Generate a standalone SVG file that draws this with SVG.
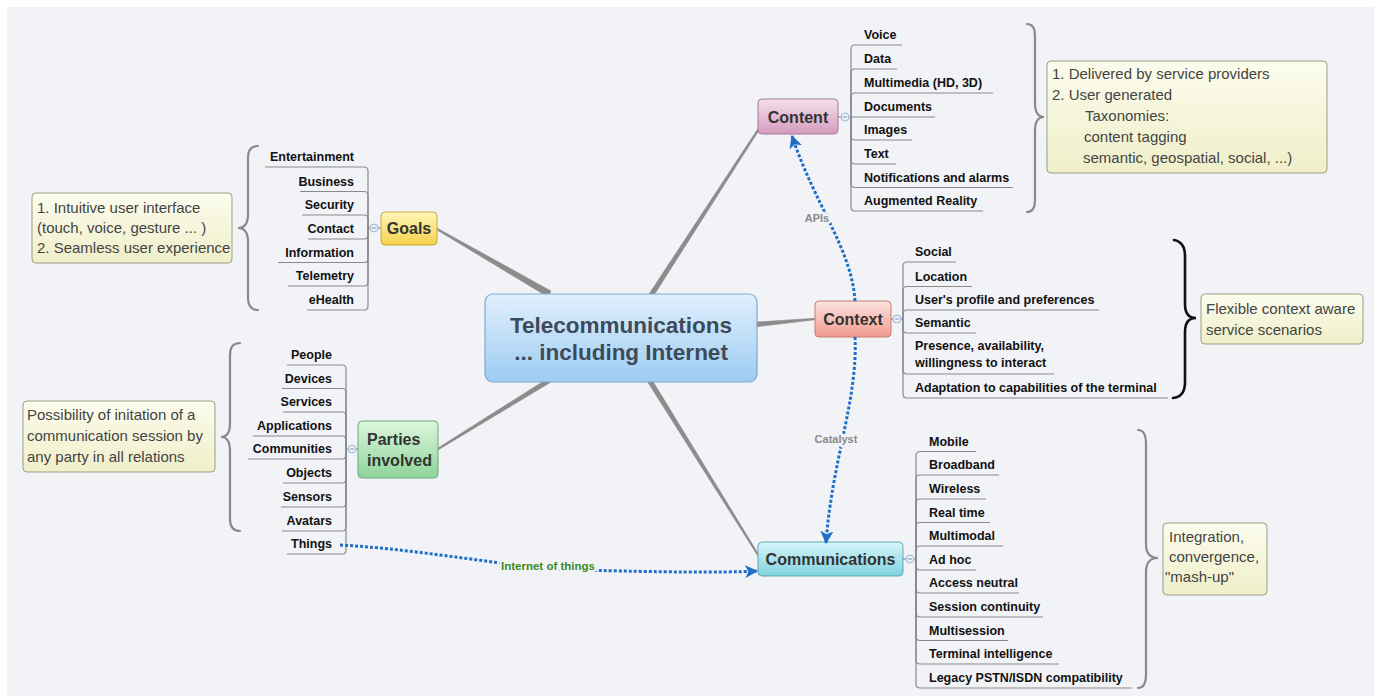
<svg xmlns="http://www.w3.org/2000/svg" width="1381" height="700" viewBox="0 0 1381 700">
<style>
  .item { font-family: "Liberation Sans", Arial, sans-serif; font-weight: bold; font-size: 12.5px; fill: #111; }
  .itemR { text-anchor: end; }
  .tree { fill: none; stroke: #8a8a8a; stroke-width: 1.2; }
  .topic { font-family: "Liberation Sans", Arial, sans-serif; font-weight: bold; font-size: 16px; fill: #333; text-anchor: middle; }
  .note { font-family: "Liberation Sans", Arial, sans-serif; font-size: 15px; fill: #444; }
  .noteBox { fill: url(#gNote); stroke: #9d9d82; stroke-width: 1; }
  .brace { fill: none; stroke: #8a8a8a; stroke-width: 2.2; stroke-linecap: round; }
  .branch { fill: #8c8c8c; stroke: #8c8c8c; stroke-width: 0.6; stroke-linejoin: round; }
  .dot { fill: none; stroke: #1f6fc6; stroke-width: 3; stroke-dasharray: 3 2; }
  .lbl { font-family: "Liberation Sans", Arial, sans-serif; font-weight: bold; font-size: 11px; text-anchor: middle; paint-order: stroke; stroke: #f2f3f7; stroke-width: 5px; stroke-linejoin: round; }
  .knob { fill: #e8eff8; stroke: #9fb6d3; stroke-width: 1; }
</style>
<defs>
  <linearGradient id="gCenter" x1="0" y1="0" x2="0" y2="1"><stop offset="0" stop-color="#e0effc"/><stop offset="1" stop-color="#9dccf3"/></linearGradient>
  <linearGradient id="gGoals" x1="0" y1="0" x2="0" y2="1"><stop offset="0" stop-color="#fff6b8"/><stop offset="1" stop-color="#f5d24a"/></linearGradient>
  <linearGradient id="gParties" x1="0" y1="0" x2="0" y2="1"><stop offset="0" stop-color="#ddf6dd"/><stop offset="1" stop-color="#8ed49a"/></linearGradient>
  <linearGradient id="gContent" x1="0" y1="0" x2="0" y2="1"><stop offset="0" stop-color="#f6dfec"/><stop offset="1" stop-color="#d49bbd"/></linearGradient>
  <linearGradient id="gContext" x1="0" y1="0" x2="0" y2="1"><stop offset="0" stop-color="#fde3df"/><stop offset="1" stop-color="#f29a8f"/></linearGradient>
  <linearGradient id="gComm" x1="0" y1="0" x2="0" y2="1"><stop offset="0" stop-color="#d8f6fa"/><stop offset="1" stop-color="#80d2df"/></linearGradient>
  <linearGradient id="gNote" x1="0" y1="0" x2="0" y2="1"><stop offset="0" stop-color="#fcfcee"/><stop offset="1" stop-color="#efefc9"/></linearGradient>
  <marker id="arr" viewBox="0 0 12 12" refX="11" refY="6" markerWidth="13" markerHeight="13" markerUnits="userSpaceOnUse" orient="auto">
    <path d="M0,0 L12,6 L0,12 L3,6 z" fill="#1f6fc6"/>
  </marker>
</defs>

<rect x="0" y="0" width="1381" height="700" fill="#ffffff"/>
<rect x="7" y="7" width="1367" height="689" fill="#f2f3f7"/>

<g id="branches">
  <polygon class="branch" points="437.4,228.3 551,291 548,297 436.6,229.7"/>
  <polygon class="branch" points="762.7,124.4 650.1,301.3 645.9,298.7 761.3,123.6"/>
  <polygon class="branch" points="815,318.2 815,319.8 750,327.5 750,322.5"/>
  <polygon class="branch" points="650.1,376.7 760.6,557.6 759.4,558.4 645.9,379.3"/>
  <polygon class="branch" points="437.6,448.3 551.7,375.9 554.3,380.1 438.4,449.7"/>
</g>

<g id="center">
  <rect x="485" y="294" width="272" height="88" rx="8" fill="url(#gCenter)" stroke="#7fa9d0" stroke-width="1.2"/>
  <text x="621" y="333" class="topic" style="font-size:22.5px;fill:#3c4a5a">Telecommunications</text>
  <text x="621" y="360" class="topic" style="font-size:22.5px;fill:#3c4a5a">... including Internet</text>
</g>

<g id="goals">
  <rect x="381" y="212" width="56" height="33" rx="4" fill="url(#gGoals)" stroke="#c9a83c" stroke-width="1"/>
  <text x="409" y="234" class="topic">Goals</text>
</g>
<g id="goals-items">
  <path class="tree" d="M368,228 H381"/>
  <path class="tree" d="M368,228 V171 Q368,167 364,167 H265"/>
  <path class="tree" d="M368,228 V195.5 Q368,191.5 364,191.5 H300"/>
  <path class="tree" d="M368,228 V219 Q368,215 364,215 H302"/>
  <path class="tree" d="M368,228 V235 Q368,239 364,239 H308"/>
  <path class="tree" d="M368,228 V258.5 Q368,262.5 364,262.5 H278"/>
  <path class="tree" d="M368,228 V282 Q368,286 364,286 H288"/>
  <path class="tree" d="M368,228 V306 Q368,310 364,310 H307"/>
  <circle class="knob" cx="374" cy="228" r="4"/><path d="M372,228 H376" stroke="#7d98bd" stroke-width="1"/>
  <text class="item itemR" x="354" y="161">Entertainment</text>
  <text class="item itemR" x="354" y="185.5">Business</text>
  <text class="item itemR" x="354" y="209">Security</text>
  <text class="item itemR" x="354" y="233">Contact</text>
  <text class="item itemR" x="354" y="256.5">Information</text>
  <text class="item itemR" x="354" y="280">Telemetry</text>
  <text class="item itemR" x="354" y="304">eHealth</text>
</g>
<g id="goals-note">
  <path class="brace" d="M258,146 Q248,146 248,158 V214 Q248,228 238,228 Q248,228 248,242 V298 Q248,310 258,310"/>
  <rect class="noteBox" x="32" y="193" width="200" height="70" rx="4"/>
  <text class="note" x="37" y="213">1. Intuitive user interface</text>
  <text class="note" x="37" y="233">(touch, voice, gesture ... )</text>
  <text class="note" x="37" y="253">2. Seamless user experience</text>
</g>

<g id="parties">
  <rect x="358" y="421" width="80" height="57" rx="4" fill="url(#gParties)" stroke="#6aa97a" stroke-width="1"/>
  <text x="367" y="445" class="topic" style="text-anchor:start">Parties</text>
  <text x="367" y="466" class="topic" style="text-anchor:start">involved</text>
</g>
<g id="parties-items">
  <path class="tree" d="M346,449 H358"/>
  <path class="tree" d="M346,449 V369 Q346,365 342,365 H287"/>
  <path class="tree" d="M346,449 V392.5 Q346,388.5 342,388.5 H282"/>
  <path class="tree" d="M346,449 V416 Q346,412 342,412 H283"/>
  <path class="tree" d="M346,449 V440 Q346,436 342,436 H253"/>
  <path class="tree" d="M346,449 V455 Q346,459 342,459 H248"/>
  <path class="tree" d="M346,449 V479 Q346,483 342,483 H283"/>
  <path class="tree" d="M346,449 V503 Q346,507 342,507 H281"/>
  <path class="tree" d="M346,449 V527 Q346,531 342,531 H282"/>
  <path class="tree" d="M346,449 V550 Q346,554 342,554 H287"/>
  <circle class="knob" cx="352" cy="449" r="4"/><path d="M350,449 H354" stroke="#7d98bd" stroke-width="1"/>
  <text class="item itemR" x="332" y="359">People</text>
  <text class="item itemR" x="332" y="382.5">Devices</text>
  <text class="item itemR" x="332" y="406">Services</text>
  <text class="item itemR" x="332" y="430">Applications</text>
  <text class="item itemR" x="332" y="453">Communities</text>
  <text class="item itemR" x="332" y="477">Objects</text>
  <text class="item itemR" x="332" y="501">Sensors</text>
  <text class="item itemR" x="332" y="525">Avatars</text>
  <text class="item itemR" x="332" y="548">Things</text>
</g>
<g id="parties-note">
  <path class="brace" d="M240,343 Q230,343 230,355 V423 Q230,437 221,437 Q230,437 230,451 V519 Q230,531 240,531"/>
  <rect class="noteBox" x="23" y="401" width="192" height="71" rx="4"/>
  <text class="note" x="27" y="420">Possibility of initation of a</text>
  <text class="note" x="27" y="441">communication session by</text>
  <text class="note" x="27" y="462">any party in all relations</text>
</g>

<g id="content">
  <rect x="758" y="99" width="80" height="35" rx="4" fill="url(#gContent)" stroke="#a87898" stroke-width="1"/>
  <text x="798" y="123" class="topic">Content</text>
</g>
<g id="content-items">
  <path class="tree" d="M838,117 H851"/>
  <path class="tree" d="M851,117 V49 Q851,45 855,45 H902"/>
  <path class="tree" d="M851,117 V73 Q851,69 855,69 H897"/>
  <path class="tree" d="M851,117 V97 Q851,93 855,93 H993"/>
  <path class="tree" d="M851,117 H935"/>
  <path class="tree" d="M851,117 V136 Q851,140 855,140 H912"/>
  <path class="tree" d="M851,117 V160 Q851,164 855,164 H896"/>
  <path class="tree" d="M851,117 V183.5 Q851,187.5 855,187.5 H1013"/>
  <path class="tree" d="M851,117 V207 Q851,211 855,211 H983"/>
  <circle class="knob" cx="845" cy="117" r="4"/><path d="M843,117 H847" stroke="#7d98bd" stroke-width="1"/>
  <text class="item" x="864" y="39">Voice</text>
  <text class="item" x="864" y="63">Data</text>
  <text class="item" x="864" y="87">Multimedia (HD, 3D)</text>
  <text class="item" x="864" y="110.5">Documents</text>
  <text class="item" x="864" y="134">Images</text>
  <text class="item" x="864" y="158">Text</text>
  <text class="item" x="864" y="181.5">Notifications and alarms</text>
  <text class="item" x="864" y="205">Augmented Reality</text>
</g>
<g id="content-note">
  <path class="brace" d="M1027,24 Q1035,24 1035,36 V103 Q1035,117 1044,117 Q1035,117 1035,131 V200 Q1035,212 1027,212"/>
  <rect class="noteBox" x="1047" y="61" width="280" height="112" rx="4"/>
  <text class="note" x="1052" y="79">1. Delivered by service providers</text>
  <text class="note" x="1052" y="100">2. User generated</text>
  <text class="note" x="1085" y="121">Taxonomies:</text>
  <text class="note" x="1084" y="142">content tagging</text>
  <text class="note" x="1083" y="163">semantic, geospatial, social, ...)</text>
</g>

<g id="context">
  <rect x="815" y="301" width="76" height="36" rx="4" fill="url(#gContext)" stroke="#c77a72" stroke-width="1"/>
  <text x="853" y="325" class="topic">Context</text>
</g>
<g id="context-items">
  <path class="tree" d="M891,319 H903"/>
  <path class="tree" d="M903,319 V266 Q903,262 907,262 H956"/>
  <path class="tree" d="M903,319 V290.5 Q903,286.5 907,286.5 H972"/>
  <path class="tree" d="M903,319 V314 Q903,310 907,310 H1099"/>
  <path class="tree" d="M903,319 V329 Q903,333 907,333 H976"/>
  <path class="tree" d="M903,319 V370 Q903,374 907,374 H1054"/>
  <path class="tree" d="M903,319 V394 Q903,398 907,398 H1168"/>
  <circle class="knob" cx="897" cy="319" r="4"/><path d="M895,319 H899" stroke="#7d98bd" stroke-width="1"/>
  <text class="item" x="915" y="256">Social</text>
  <text class="item" x="915" y="280.5">Location</text>
  <text class="item" x="915" y="304">User's profile and preferences</text>
  <text class="item" x="915" y="327">Semantic</text>
  <text class="item" x="915" y="350">Presence, availability,</text>
  <text class="item" x="915" y="367">willingness to interact</text>
  <text class="item" x="915" y="392">Adaptation to capabilities of the terminal</text>
</g>
<g id="context-note">
  <path class="brace" style="stroke:#111;stroke-width:2.6" d="M1174,240 Q1185,242 1185,256 V304 Q1185,318 1196,318 Q1185,318 1185,332 V382 Q1185,397 1173,398"/>
  <rect class="noteBox" x="1201" y="294" width="162" height="50" rx="4"/>
  <text class="note" x="1206" y="314">Flexible context aware</text>
  <text class="note" x="1206" y="335">service scenarios</text>
</g>

<g id="communications">
  <rect x="758" y="542" width="145" height="34" rx="4" fill="url(#gComm)" stroke="#5fa9b5" stroke-width="1"/>
  <text x="830.5" y="565" class="topic">Communications</text>
</g>
<g id="communications-items">
  <path class="tree" d="M903,559 H916"/>
  <path class="tree" d="M916,559 V455.5 Q916,451.5 920,451.5 H976"/>
  <path class="tree" d="M916,559 V479 Q916,475 920,475 H999"/>
  <path class="tree" d="M916,559 V503 Q916,499 920,499 H986"/>
  <path class="tree" d="M916,559 V526.5 Q916,522.5 920,522.5 H990"/>
  <path class="tree" d="M916,559 V550 Q916,546 920,546 H1003"/>
  <path class="tree" d="M916,559 V566 Q916,570 920,570 H976"/>
  <path class="tree" d="M916,559 V589 Q916,593 920,593 H1019"/>
  <path class="tree" d="M916,559 V613 Q916,617 920,617 H1043"/>
  <path class="tree" d="M916,559 V636.5 Q916,640.5 920,640.5 H1008"/>
  <path class="tree" d="M916,559 V660 Q916,664 920,664 H1059"/>
  <path class="tree" d="M916,559 V684 Q916,688 920,688 H1132"/>
  <circle class="knob" cx="910" cy="559" r="4"/><path d="M908,559 H912" stroke="#7d98bd" stroke-width="1"/>
  <text class="item" x="929" y="445.5">Mobile</text>
  <text class="item" x="929" y="469">Broadband</text>
  <text class="item" x="929" y="493">Wireless</text>
  <text class="item" x="929" y="516.5">Real time</text>
  <text class="item" x="929" y="540">Multimodal</text>
  <text class="item" x="929" y="564">Ad hoc</text>
  <text class="item" x="929" y="587">Access neutral</text>
  <text class="item" x="929" y="611">Session continuity</text>
  <text class="item" x="929" y="634.5">Multisession</text>
  <text class="item" x="929" y="658">Terminal intelligence</text>
  <text class="item" x="929" y="682">Legacy PSTN/ISDN compatibility</text>
</g>
<g id="communications-note">
  <path class="brace" d="M1138,430 Q1146,430 1146,444 V544 Q1146,558 1158,558 Q1146,558 1146,572 V674 Q1146,688 1138,688"/>
  <rect class="noteBox" x="1163" y="523" width="104" height="72" rx="4"/>
  <text class="note" x="1169" y="542">Integration,</text>
  <text class="note" x="1169" y="562">convergence,</text>
  <text class="note" x="1165" y="582">"mash-up"</text>
</g>

<g id="connectors">
  <path class="dot" d="M855,301 C852,250 815,205 792,136" marker-end="url(#arr)"/>
  <text class="lbl" x="817" y="222" fill="#8a8a8a">APIs</text>
  <path class="dot" d="M855,337 C858,400 832,460 826,543" marker-end="url(#arr)"/>
  <text class="lbl" x="836" y="443" fill="#8a8a8a">Catalyst</text>
  <path class="dot" d="M340,545 C430,550 510,568 580,570 C660,572 720,573 757,571" marker-end="url(#arr)"/>
  <text class="lbl" x="548" y="570" fill="#3a8a28" style="font-size:11.5px">Internet of things</text>
</g>
</svg>
